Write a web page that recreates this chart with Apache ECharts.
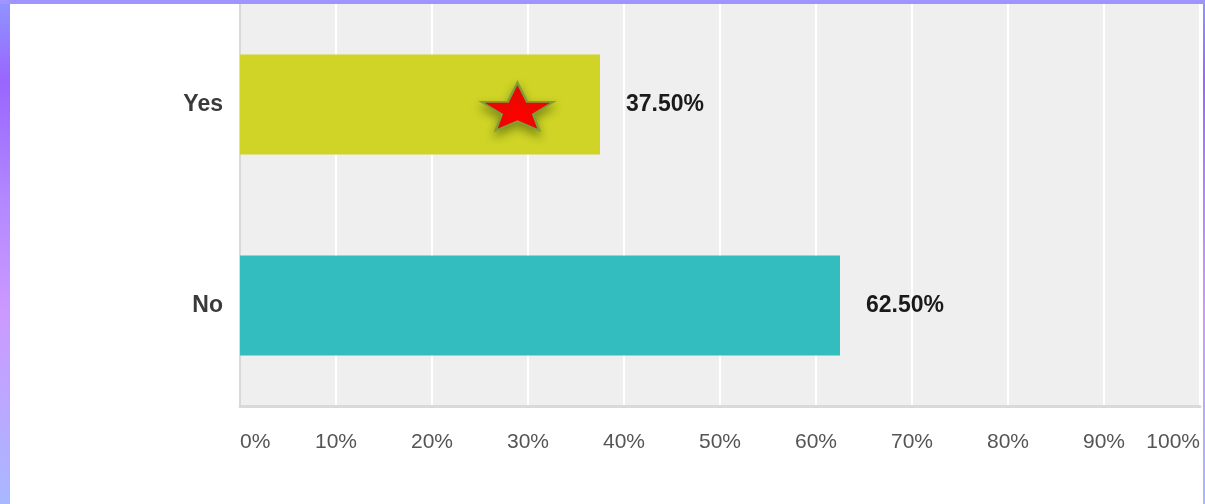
<!DOCTYPE html>
<html>
<head>
<meta charset="utf-8">
<script src="https://cdn.jsdelivr.net/npm/echarts@6/dist/echarts.min.js"></script>
<style>
  html, body { margin: 0; padding: 0; }
  #frame {
    position: relative; width: 1205px; height: 504px;
    background: linear-gradient(to bottom, #8f95ff 0%, #9966ff 16%, #b388ff 40%, #cc99ff 62%, #a8b8ff 100%);
  }
  #topbar { position: absolute; left: 0; top: 0; width: 1205px; height: 4px; background: #a094ff; }
  #chart { position: absolute; left: 10px; top: 4px; width: 1193px; height: 500px; background: #ffffff; }
</style>
</head>
<body>
<div id="frame"><div id="topbar"></div><div id="chart"></div></div>
<script>
// Data
const categories = ['Yes', 'No'];
const values = [37.5, 62.5];
const barColors = ['#cfd426', '#33bdbf'];
const xTicks = [0, 10, 20, 30, 40, 50, 60, 70, 80, 90, 100];
const starPoint = [28.9, 'Yes'];

const starPath = 'path://M35.5 0 L45 19 L71 19 L51 31 L57 47 L35.5 38 L14 47 L20 31 L0 19 L26 19 Z';

const chart = echarts.init(document.getElementById('chart'), null, { renderer: 'canvas' });
chart.setOption({
  animation: false,
  grid: {
    left: 230, right: 0, top: 0, bottom: 98,
    show: true, backgroundColor: '#efefef', borderWidth: 0
  },
  xAxis: {
    type: 'value',
    min: xTicks[0], max: xTicks[xTicks.length - 1], interval: 10,
    axisLine: { show: true, lineStyle: { color: '#d9d9d9', width: 3 } },
    axisTick: { show: false },
    splitLine: { show: true, lineStyle: { color: '#ffffff', width: 2 } },
    axisLabel: {
      formatter: '{value}%', margin: 26,
      color: '#555555', fontFamily: 'Liberation Sans', fontSize: 21,
      alignMinLabel: 'left', alignMaxLabel: 'right'
    }
  },
  yAxis: {
    type: 'category', inverse: true,
    data: categories,
    axisLine: { show: true, lineStyle: { color: '#d9d9d9', width: 2 } },
    axisTick: { show: false },
    splitLine: { show: false },
    axisLabel: {
      margin: 17, color: '#3a3a3a',
      fontFamily: 'Liberation Sans', fontWeight: 'bold', fontSize: 23
    }
  },
  series: [
    {
      type: 'bar',
      barWidth: 100,
      data: values.map((v, i) => ({ value: v, itemStyle: { color: barColors[i] } })),
      label: {
        show: true, position: 'right', distance: 26,
        formatter: p => p.value.toFixed(2) + '%',
        color: '#1a1a1a', fontFamily: 'Liberation Sans', fontWeight: 'bold', fontSize: 23
      }
    },
    {
      type: 'scatter',
      data: [starPoint],
      symbol: starPath,
      symbolSize: [72, 48],
      symbolOffset: [0, 2],
      z: 5,
      itemStyle: {
        opacity: 1,
        color: '#ff0000', borderColor: '#7f9f3a', borderWidth: 2,
        shadowColor: 'rgba(60,80,0,0.5)', shadowBlur: 8, shadowOffsetY: 5
      }
    }
  ]
});
</script>
</body>
</html>
